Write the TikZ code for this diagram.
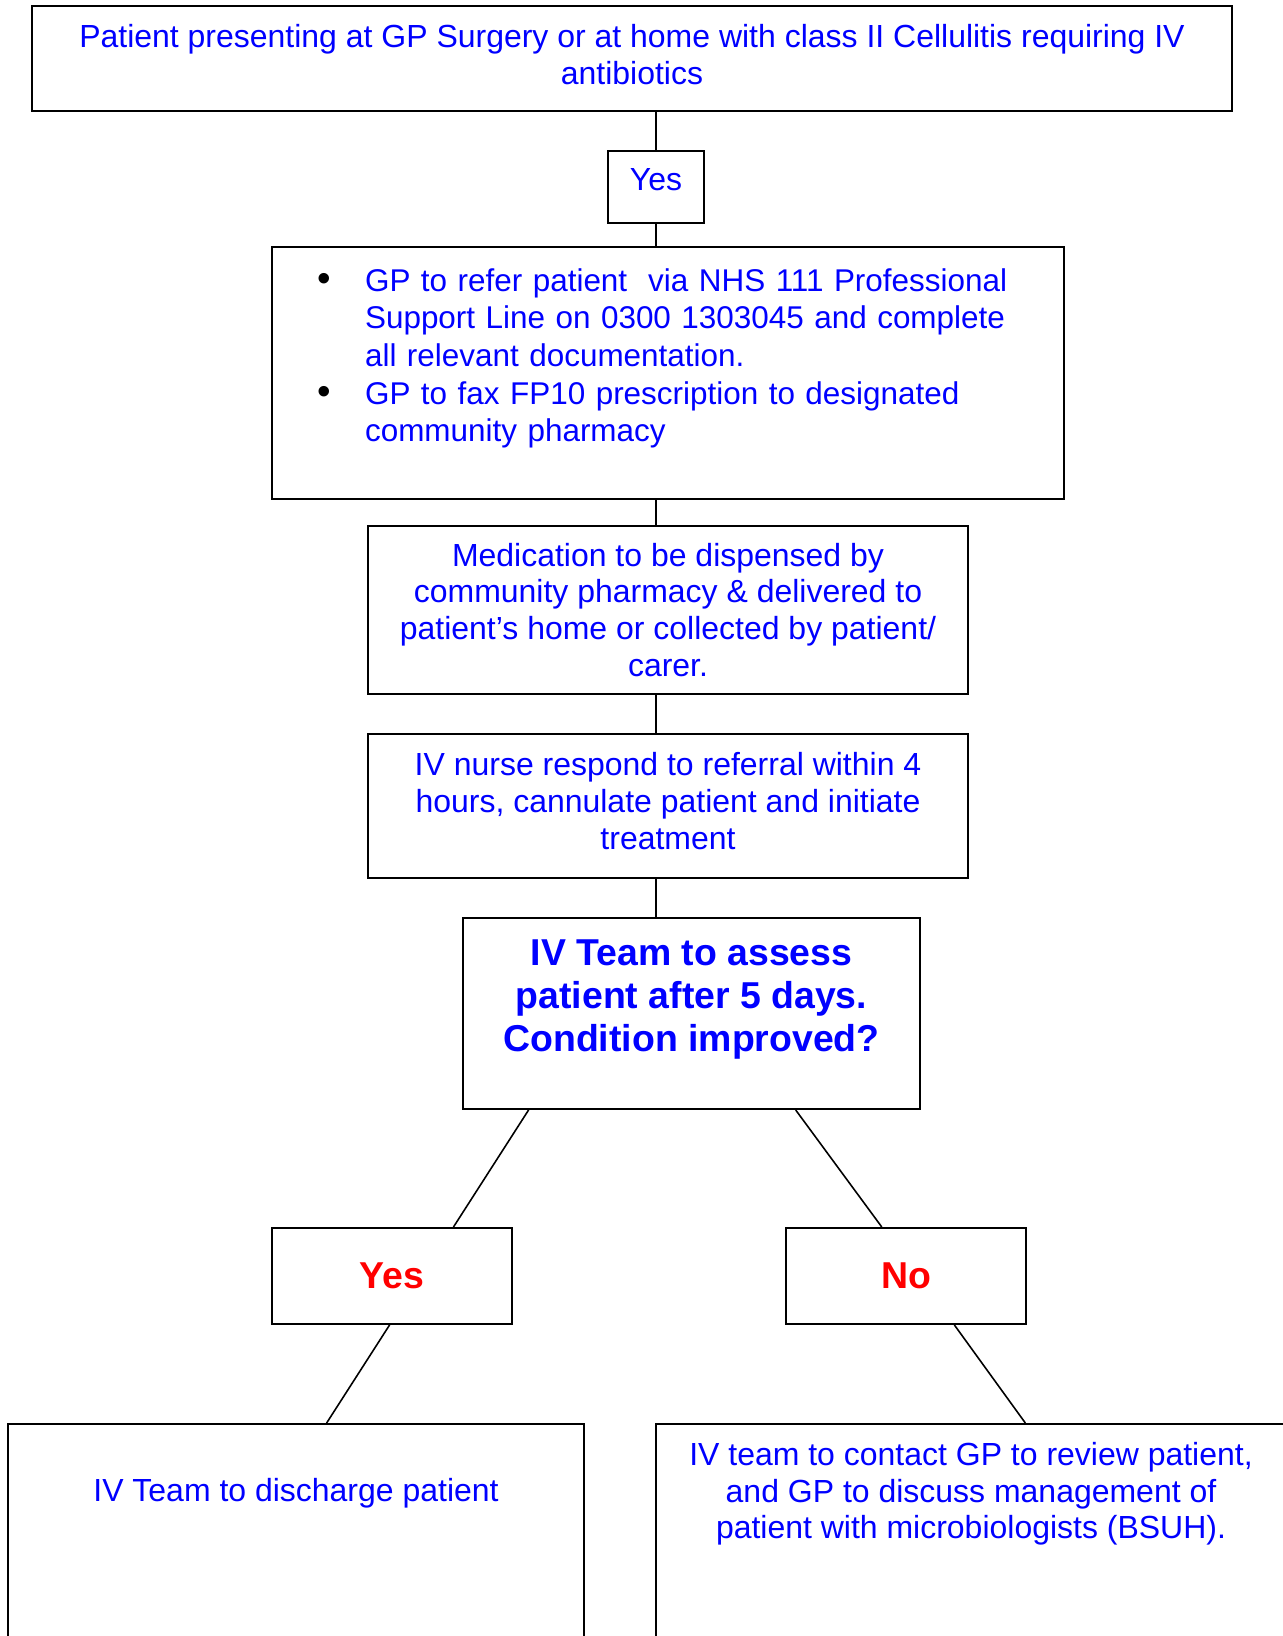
\documentclass[tikz,border=0pt]{standalone}
\usepackage{fontspec}
\setmainfont{Liberation Sans}
\usetikzlibrary{positioning, calc}

% bullet line with hanging text
\newcommand{\gpitem}[1]{\par\raggedright\hangindent=0.94cm\hangafter=0\noindent\llap{\textcolor{black}{\fontsize{22}{0}\selectfont\textbullet}\hspace{0.68cm}}#1\par}

\begin{document}
\begin{tikzpicture}[
    x=0.02cm, y=-0.02cm,
    box/.style={rectangle, draw, line width=1.1pt, inner sep=0pt, align=center, text=blue, font=\fontsize{18.2}{21}\selectfont},
    bigq/.style={box, font=\fontsize{21.3}{24.6}\selectfont\bfseries},
    ans/.style={box, text=red, font=\fontsize{21.3}{24.6}\selectfont\bfseries, minimum width=4.8cm, minimum height=1.92cm},
    outcome/.style={box, anchor=north, inner ysep=0.36cm, text depth=5cm},
    link/.style={line width=0.9pt},
]
\useasboundingbox (0,0) rectangle (1283,1636);

% Referral
\node[box, minimum width=24cm, minimum height=2.1cm, text depth=4.4pt] (referral) at (632,58.5) {Patient presenting at GP Surgery or at home with class II Cellulitis requiring IV\\antibiotics};

\node[box, minimum width=1.92cm, minimum height=1.44cm, text depth=8pt] (agree) at (656,187) {Yes};

% GP actions
\node[box, minimum width=15.84cm, minimum height=5.04cm, text width=14cm, align=left, font=\fontsize{17.9}{21.4}\selectfont] (gprefer) at (668,373) {%
\gpitem{GP to refer patient\ \ via NHS 111 Professional\newline Support Line on 0300 1303045 and complete\newline all relevant documentation.}%
\gpitem{GP to fax FP10 prescription to designated\newline community pharmacy}\vspace{7.5pt}~};

% Pharmacy
\node[box, minimum width=12cm, minimum height=3.36cm] (dispense) at (668,610) {Medication to be dispensed by\\community pharmacy \& delivered to\\patient’s home or collected by patient/\\carer.};

% IV nurse
\node[box, minimum width=12cm, minimum height=2.88cm, text depth=6pt] (nurse) at (668,806) {IV nurse respond to referral within 4\\hours, cannulate patient and initiate\\treatment};

% Assessment
\node[bigq, minimum width=9.14cm, minimum height=3.82cm, text depth=20.3pt] (assess) at (691.5,1013.5) {IV Team to assess\\patient after 5 days.\\Condition improved?};

\node[ans] (improved) at (392,1276) {Yes};
\node[ans] (worse) at (906,1276) {No};

% Outcomes
\node[outcome, minimum width=11.52cm, inner ysep=1.09cm] (discharge) at (296,1423) {IV Team to discharge patient};
\node[outcome, minimum width=12.6cm] (review) at (971,1423) {IV team to contact GP to review patient,\\and GP to discuss management of\\patient with microbiologists (BSUH).};

% Connectors
\draw[link] (referral.south -| agree) -- (agree.north);
\draw[link] (agree.south) -- (agree.south |- gprefer.north);
\draw[link] (gprefer.south -| agree) -- (dispense.north -| agree);
\draw[link] (dispense.south -| agree) -- (nurse.north -| agree);
\draw[link] (nurse.south -| agree) -- (assess.north -| agree);
\draw[link] ($(assess.south west)!0.145!(assess.south east)$) -- ($(improved.north west)!0.754!(improved.north east)$);
\draw[link] ($(assess.south west)!0.727!(assess.south east)$) -- ($(worse.north west)!0.4!(worse.north east)$);
\draw[link] ($(improved.south west)!0.49!(improved.south east)$) -- ($(discharge.north west)!0.553!(discharge.north east)$);
\draw[link] ($(worse.south west)!0.7!(worse.south east)$) -- ($(review.north west)!0.586!(review.north east)$);

\end{tikzpicture}
\end{document}
